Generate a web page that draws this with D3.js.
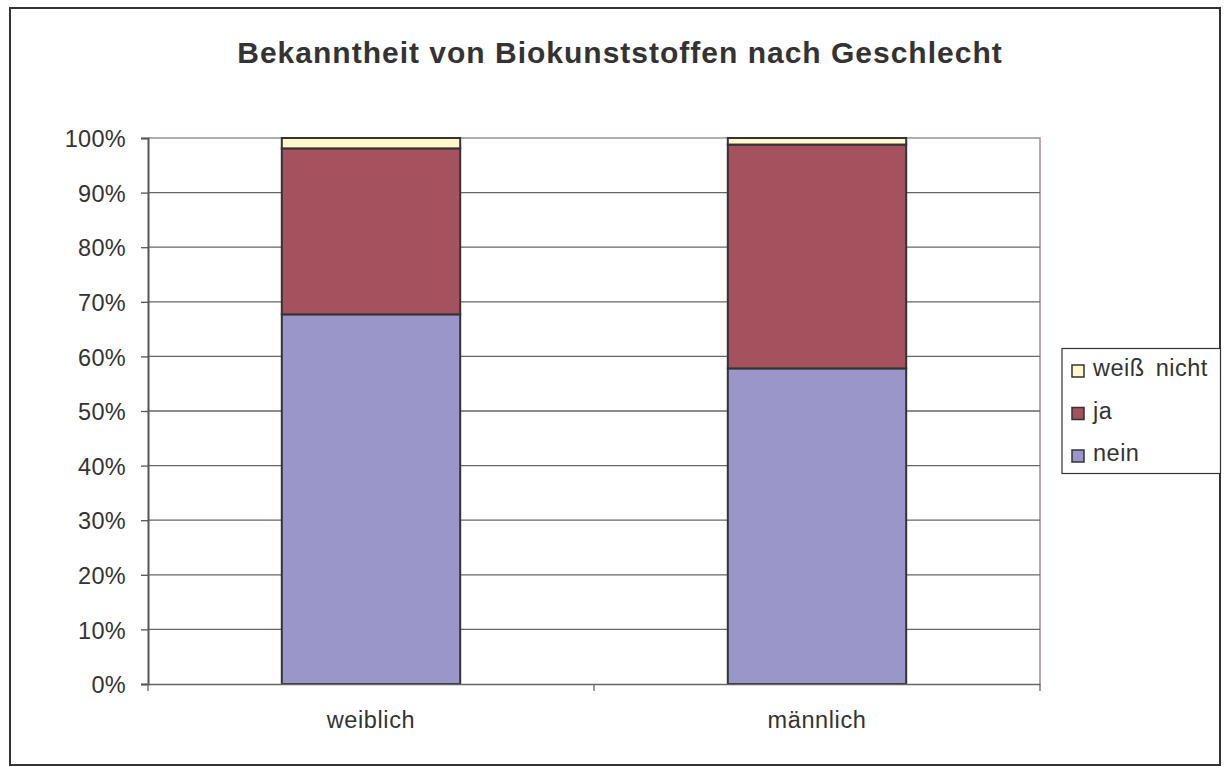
<!DOCTYPE html>
<html><head><meta charset="utf-8">
<script src="https://cdn.jsdelivr.net/npm/d3@7"></script>
<style>
body{margin:0;background:#fff;}
svg text{font-family:"Liberation Sans",Arial,sans-serif;fill:#333;}
</style></head>
<body><svg id="c" width="1225" height="767"></svg>
<script>
const categories = ["weiblich", "männlich"];
const seriesNames = ["nein", "ja", "weiß nicht"];
const nein = [67.7, 57.8];
const ja = [30.4, 41.0];
const weissNicht = [1.9, 1.2];
const yTicks = [0,10,20,30,40,50,60,70,80,90,100];
const colors = {"nein":"#9b96c9","ja":"#a5525f","weiß nicht":"#fff8cc"};

const svg = d3.select("#c");
svg.append("rect").attr("x",10).attr("y",8).attr("width",1210).attr("height",757)
  .attr("fill","#fff").attr("stroke","#333").attr("stroke-width",2);

svg.append("text").attr("x",620).attr("y",63).attr("text-anchor","middle")
  .attr("font-size",30).attr("font-weight","bold").attr("letter-spacing",1)
  .text("Bekanntheit von Biokunststoffen nach Geschlecht");

const L=148,R=1040,T=138,B=684;
const x = d3.scaleBand().domain(categories).range([L,R]).paddingInner(0.6).paddingOuter(0.3);
const xb = d3.scaleBand().domain(categories).range([L,R]);
const y = d3.scaleLinear().domain([0,100]).range([B,T]);

svg.append("path").attr("d",`M${L},${T}H${R}V${B}`).attr("fill","none").attr("stroke","#a09090").attr("stroke-width",1.5);
svg.append("g").selectAll("line").data(yTicks.filter(d=>d>0 && d<100)).join("line")
  .attr("x1",L).attr("x2",R).attr("y1",d=>y(d)).attr("y2",d=>y(d))
  .attr("stroke","#666").attr("stroke-width",1.3);

const data = categories.map((c,i)=>({cat:c,"nein":nein[i],"ja":ja[i],"weiß nicht":weissNicht[i]}));
const stack = d3.stack().keys(seriesNames)(data);
svg.append("g").selectAll("g").data(stack).join("g").attr("fill",d=>colors[d.key])
  .selectAll("rect").data(d=>d).join("rect")
  .attr("x",d=>x(d.data.cat)).attr("width",x.bandwidth())
  .attr("y",d=>y(d[1])).attr("height",d=>y(d[0])-y(d[1]))
  .attr("stroke","#333").attr("stroke-width",2);

const ya = svg.append("g").attr("transform",`translate(${L},0)`)
  .call(d3.axisLeft(y).tickValues(yTicks).tickFormat(d=>d+"%").tickSize(7).tickPadding(15));
ya.select(".domain").attr("stroke","#555").attr("stroke-width",2);
ya.selectAll(".tick line").attr("stroke","#555").attr("stroke-width",1.3);
ya.selectAll("text").attr("font-size",23.5).attr("letter-spacing",0.3).attr("fill","#333").attr("dy","0.37em");

const xa = svg.append("g").attr("transform",`translate(0,${B})`)
  .call(d3.axisBottom(xb).tickSize(0).tickPadding(27));
xa.select(".domain").attr("stroke","#666").attr("stroke-width",1.5);
xa.selectAll("text").attr("font-size",23.5).attr("letter-spacing",0.6).attr("fill","#333");
svg.append("g").selectAll("line").data([L, ...categories.map(c=>xb(c)+xb.bandwidth())]).join("line")
  .attr("x1",d=>d).attr("x2",d=>d).attr("y1",B).attr("y2",B+7).attr("stroke","#666").attr("stroke-width",1.3);

const lg = svg.append("g");
lg.append("rect").attr("x",1062).attr("y",348.5).attr("width",158.5).attr("height",125)
  .attr("fill","#fff").attr("stroke","#333").attr("stroke-width",1.2);
const legendOrder = ["weiß nicht","ja","nein"];
legendOrder.forEach((k,i)=>{
  const by = 376 + i*42.5;
  lg.append("rect").attr("x",1072).attr("y",by-11).attr("width",12).attr("height",12)
    .attr("fill",colors[k]).attr("stroke","#333").attr("stroke-width",1.5);
  lg.append("text").attr("x",1093).attr("y",by).attr("font-size",23.5).attr("letter-spacing",0.5)
    .attr("word-spacing",4).text(k);
});
</script></body></html>
